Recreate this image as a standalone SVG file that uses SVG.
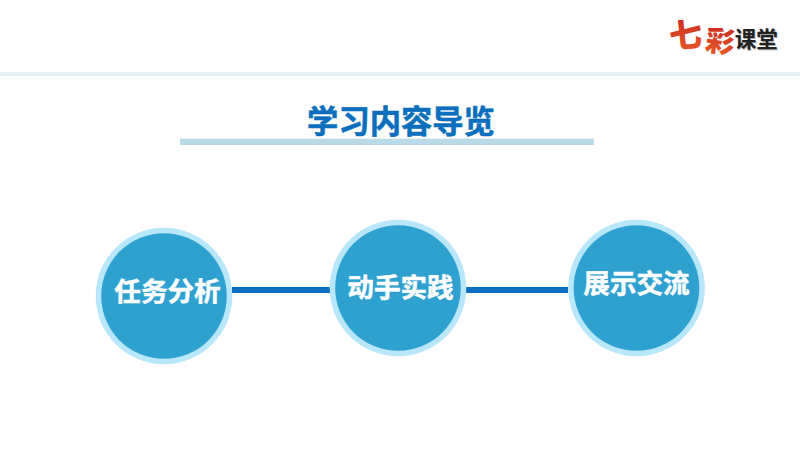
<svg xmlns="http://www.w3.org/2000/svg" width="800" height="450" viewBox="0 0 800 450">
<defs>
<linearGradient id="red" x1="0" y1="0" x2="0" y2="1"><stop offset="0" stop-color="#c8201c"/><stop offset="1" stop-color="#e8602a"/></linearGradient>
</defs>
<style>
text{font-family:"Noto Sans CJK SC","Noto Sans CJK TC",sans-serif;font-weight:700;text-anchor:middle}
.outer{fill:#b8e6fa}
.inner{fill:#2ea1d0}
.label{fill:#fff;font-size:26.6px;stroke:#fff;stroke-width:.5}
.link{stroke:#0a6fc0;stroke-width:6;fill:none}
</style>
<rect width="800" height="450" fill="#fff"/>
<rect id="top-band" x="0" y="72" width="800" height="4" fill="#e5f3f5"/>
<g id="logo">
<text x="686" y="47" font-size="33" fill="url(#red)" transform="rotate(-6 686 38)" style="font-weight:900">七</text>
<text x="720" y="52" font-size="29" fill="url(#red)" transform="rotate(8 720 42)" style="font-weight:900">彩</text>
<text x="757" y="47.5" font-size="21.5" fill="#aaa">课堂</text>
<text x="756.3" y="46.5" font-size="21.5" fill="#222">课堂</text>
</g>
<g id="title">
<text x="401" y="132.5" font-size="31.3" fill="#0b6fbd" stroke="#0b6fbd" stroke-width=".6">学习内容导览</text>
<rect x="180" y="138.7" width="414" height="6.3" fill="#b9dbe8"/>
</g>
<g id="connectors">
<line class="link" x1="232" y1="290" x2="331" y2="290"/>
<line class="link" x1="466" y1="290" x2="568" y2="290"/>
</g>
<g id="node-1">
<circle class="outer" cx="164" cy="296" r="68.3"/>
<circle class="inner" cx="164" cy="296" r="62.8"/>
<text class="label" x="167.5" y="301">任务分析</text>
</g>
<g id="node-2">
<circle class="outer" cx="398" cy="288" r="68.3"/>
<circle class="inner" cx="398" cy="288" r="62.8"/>
<text class="label" x="400.5" y="297">动手实践</text>
</g>
<g id="node-3">
<circle class="outer" cx="636.5" cy="288" r="68.3"/>
<circle class="inner" cx="636.5" cy="288" r="62.8"/>
<text class="label" x="636.5" y="293">展示交流</text>
</g>
</svg>
